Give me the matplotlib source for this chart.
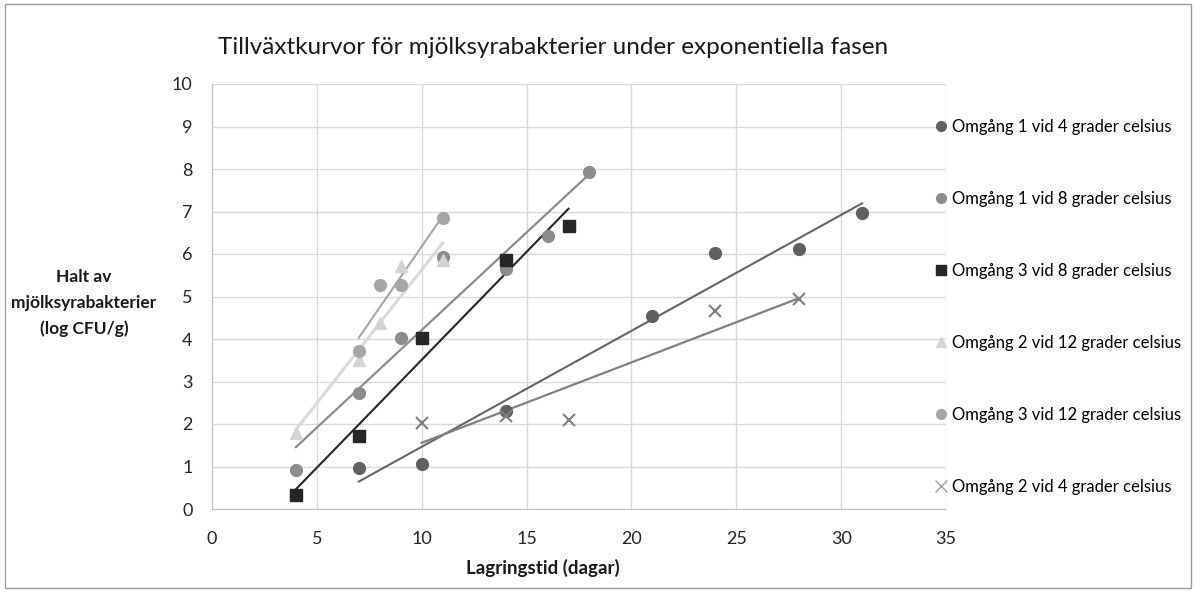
import numpy as np
import matplotlib
matplotlib.use("Agg")
import matplotlib.pyplot as plt
from matplotlib.lines import Line2D
from matplotlib.patches import Rectangle

plt.rcParams['font.family'] = ['Lato', 'DejaVu Sans']

title = "Tillväxtkurvor för mjölksyrabakterier under exponentiella fasen"
xlabel = "Lagringstid (dagar)"
ylabel = "Halt av\nmjölksyrabakterier\n(log CFU/g)"

labels = [
    "Omgång 1 vid 4 grader celsius",
    "Omgång 1 vid 8 grader celsius",
    "Omgång 3 vid 8 grader celsius",
    "Omgång 2 vid 12 grader celsius",
    "Omgång 3 vid 12 grader celsius",
    "Omgång 2 vid 4 grader celsius",
]

x_o1_4 = [7, 10, 14, 21, 24, 28, 31]
y_o1_4 = [0.97, 1.05, 2.30, 4.55, 6.02, 6.12, 6.97]

x_o1_8 = [4, 7, 9, 11, 14, 16, 18]
y_o1_8 = [0.92, 2.73, 4.03, 5.93, 5.65, 6.42, 7.93]

x_o3_8 = [4, 7, 10, 14, 17]
y_o3_8 = [0.32, 1.72, 4.03, 5.85, 6.65]

x_o2_12 = [4, 7, 8, 9, 11]
y_o2_12 = [1.80, 3.50, 4.38, 5.72, 5.85]

x_o3_12 = [7, 8, 9, 11]
y_o3_12 = [3.72, 5.28, 5.28, 6.85]

x_o2_4 = [10, 14, 17, 24, 28]
y_o2_4 = [2.02, 2.20, 2.10, 4.67, 4.93]

xs = [x_o1_4, x_o1_8, x_o3_8, x_o2_12, x_o3_12, x_o2_4]
ys = [y_o1_4, y_o1_8, y_o3_8, y_o2_12, y_o3_12, y_o2_4]
markers = ['o', 'o', 's', '^', 'o', 'x']
mcolors = ['#606060', '#8c8c8c', '#262626', '#d4d4d4', '#a6a6a6', '#7f7f7f']
lcolors = ['#646464', '#8c8c8c', '#262626', '#d9d9d9', '#a6a6a6', '#808080']
lwidths = [1.5, 1.6, 1.5, 2.2, 1.5, 1.6]
msizes = [8.5, 8.5, 8.5, 8.5, 8.5, 8]

fig = plt.figure(figsize=(11.96, 5.92), dpi=100)
ax = fig.add_axes([212/1196, 1-509/592, (946-212)/1196, (509-84)/592])

for x, y, m, mc, lc, lw, ms in zip(xs, ys, markers, mcolors, lcolors, lwidths, msizes):
    x = np.array(x, float); y = np.array(y, float)
    k, b = np.polyfit(x, y, 1)
    xx = np.array([x.min(), x.max()])
    ax.plot(xx, k*xx + b, color=lc, lw=lw, zorder=2)
    if m == 'x':
        ax.plot(x, y, linestyle='none', marker=m, color=mc, ms=ms, mew=1.5, zorder=3)
    else:
        ax.plot(x, y, linestyle='none', marker=m, color=mc, ms=ms, mec=mc, zorder=3)

ax.set_xlim(0, 35)
ax.set_ylim(0, 10)
ax.set_xticks(np.arange(0, 36, 5))
ax.set_yticks(np.arange(0, 11, 1))
ax.grid(True, color='#d9d9d9', lw=1)
ax.set_axisbelow(True)
for s in ['top', 'right']:
    ax.spines[s].set_visible(False)
for s in ['left', 'bottom']:
    ax.spines[s].set_color('#bfbfbf')
ax.tick_params(length=0, labelsize=13, colors='#262626')
ax.tick_params(axis='x', pad=16)
ax.tick_params(axis='y', pad=14)

fig.text(553/1196, 1-47/592, title, ha='center', va='center', fontsize=17.5, color='#1a1a1a')
fig.text(543/1196, 1-568/592, xlabel, ha='center', va='center', fontsize=13.5,
         fontweight='bold', color='#1a1a1a')
fig.text(84/1196, 1-303/592, ylabel, ha='center', va='center', fontsize=12.5,
         fontweight='bold', linespacing=1.75, color='#1a1a1a')

handles = []
for m, mc in zip(markers, mcolors):
    if m == 'x':
        handles.append(Line2D([], [], linestyle='none', marker='x', color='#a0a0a0', ms=8, mew=1))
    else:
        handles.append(Line2D([], [], linestyle='none', marker=m, color=mc, ms=7))
fig.legend(handles, labels, loc='upper left', bbox_to_anchor=(936/1196, 1-119/592),
           frameon=False, fontsize=12, labelspacing=3.36, handlelength=0.6,
           handletextpad=0.35, borderaxespad=0, borderpad=0)

fig.patches.append(Rectangle((5/1196, 4/592), 1186/1196, 584/592, transform=fig.transFigure,
                             fill=False, edgecolor='#9a9a9a', lw=1))

fig.savefig('out.png', dpi=100)
